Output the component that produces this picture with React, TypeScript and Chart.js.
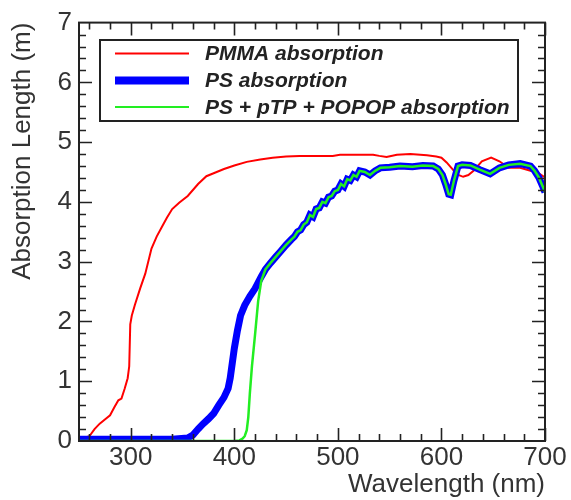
import React, { useEffect, useRef } from "react";
import { Chart, registerables } from "chart.js";

Chart.register(...registerables);

// ---- data ----
const xTicks = [300, 400, 500, 600, 700];
const yTicks = [0, 1, 2, 3, 4, 5, 6, 7];

const pmmaLabel = "PMMA absorption";
const pmmaNm = [250, 255, 260, 265, 270, 275, 280, 284, 288, 291, 294, 297, 298.5, 299.5, 301, 304, 309, 314, 320, 325, 330, 335, 340, 347, 355, 365, 373, 380, 390, 400, 412, 425, 437, 450, 463, 480, 495, 502, 520, 534, 540, 547, 557, 570, 586, 595, 600, 605, 610, 615, 621, 626, 631, 639, 648, 656, 665, 676, 686, 693, 700];
const pmmaLen = [0.03, 0.05, 0.08, 0.2, 0.29, 0.36, 0.43, 0.56, 0.68, 0.71, 0.87, 1.05, 1.25, 1.95, 2.1, 2.28, 2.55, 2.8, 3.22, 3.42, 3.58, 3.74, 3.88, 3.99, 4.1, 4.3, 4.43, 4.48, 4.55, 4.61, 4.67, 4.71, 4.74, 4.76, 4.77, 4.77, 4.77, 4.79, 4.79, 4.79, 4.77, 4.75, 4.79, 4.8, 4.78, 4.76, 4.74, 4.66, 4.56, 4.46, 4.42, 4.45, 4.52, 4.68, 4.74, 4.68, 4.57, 4.57, 4.52, 4.49, 4.41];

const psLabel = "PS absorption";
const psNm = [250, 300, 340, 355, 360, 365, 370, 375, 380, 385, 390, 394, 396, 398, 400, 403, 406, 410, 415, 420, 426, 430, 435, 440, 445, 450, 455, 458, 461, 464, 467, 470, 473, 476, 479, 482, 485, 488, 491, 494, 497, 500, 503, 506, 509, 512, 515, 518, 521, 526, 531, 536, 541, 550, 560, 572, 582, 592, 597, 601, 604, 607, 609, 612, 616, 620, 628, 637, 647, 656, 665, 676, 686, 690, 694, 698, 700];
const psLen = [0.03, 0.03, 0.03, 0.05, 0.1, 0.2, 0.29, 0.37, 0.46, 0.6, 0.73, 0.88, 1.05, 1.3, 1.55, 1.85, 2.1, 2.27, 2.42, 2.55, 2.75, 2.87, 2.98, 3.08, 3.18, 3.28, 3.37, 3.42, 3.5, 3.53, 3.62, 3.66, 3.78, 3.75, 3.88, 3.9, 4.0, 3.98, 4.08, 4.1, 4.18, 4.2, 4.3, 4.26, 4.38, 4.36, 4.45, 4.42, 4.52, 4.5, 4.45, 4.52, 4.57, 4.58, 4.6, 4.59, 4.61, 4.6, 4.55, 4.45, 4.3, 4.13, 4.12, 4.35, 4.6, 4.62, 4.61, 4.54, 4.47, 4.57, 4.62, 4.64, 4.6, 4.52, 4.41, 4.25, 4.16];

const wlsLabel = "PS + pTP + POPOP absorption";
const wlsNm = [250, 400, 405, 408, 410, 412, 413.5, 415, 417, 420, 423, 426, 430, 435, 440, 445, 450, 455, 458, 461, 464, 467, 470, 473, 476, 479, 482, 485, 488, 491, 494, 497, 500, 503, 506, 509, 512, 515, 518, 521, 526, 531, 536, 541, 550, 560, 572, 582, 592, 597, 601, 604, 607, 609, 612, 616, 620, 628, 637, 647, 656, 665, 676, 686, 690, 694, 698, 700];
const wlsLen = [0, 0, 0.01, 0.04, 0.08, 0.18, 0.4, 0.8, 1.25, 1.78, 2.34, 2.68, 2.87, 2.98, 3.08, 3.18, 3.28, 3.37, 3.42, 3.5, 3.53, 3.62, 3.66, 3.78, 3.75, 3.88, 3.9, 4.0, 3.98, 4.08, 4.1, 4.18, 4.2, 4.3, 4.26, 4.38, 4.36, 4.45, 4.42, 4.52, 4.5, 4.45, 4.52, 4.57, 4.58, 4.6, 4.59, 4.61, 4.6, 4.55, 4.45, 4.3, 4.13, 4.12, 4.35, 4.6, 4.62, 4.61, 4.54, 4.47, 4.57, 4.62, 4.64, 4.6, 4.52, 4.41, 4.25, 4.16];

const toPoints = (xs: number[], ys: number[]) => xs.map((x, i) => ({ x, y: ys[i] }));

const FONT = '"Liberation Sans", Arial, Helvetica, sans-serif';
const TEXT = "#333333";

const frameTicks = {
  id: "frameTicks",
  afterDatasetsDraw(chart: any) {
    const { ctx, chartArea, scales } = chart;
    const { left, right, top, bottom } = chartArea;
    const x = scales.x;
    const y = scales.y;
    ctx.save();
    ctx.strokeStyle = "#222";
    ctx.lineWidth = 1.6;
    ctx.beginPath();
    for (let v = 260; v <= 700; v += 20) {
      const len = v % 100 === 0 ? 13 : 7;
      const px = Math.round(x.getPixelForValue(v)) + 0.5;
      ctx.moveTo(px, bottom);
      ctx.lineTo(px, bottom - len);
      ctx.moveTo(px, top);
      ctx.lineTo(px, top + len);
    }
    for (let i = 1; i < 35; i++) {
      const v = i / 5;
      const len = i % 5 === 0 ? 13 : 7;
      const py = Math.round(y.getPixelForValue(v)) + 0.5;
      ctx.moveTo(left, py);
      ctx.lineTo(left + len, py);
      ctx.moveTo(right, py);
      ctx.lineTo(right - len, py);
    }
    ctx.stroke();
    ctx.lineWidth = 2;
    ctx.strokeRect(left, top, right - left, bottom - top);
    ctx.restore();
  },
};

const boxLegend = {
  id: "boxLegend",
  afterDraw(chart: any) {
    const { ctx } = chart;
    const bx = 100, by = 40, bw = 418, bh = 81;
    const rows = [53.5, 80.5, 107];
    const widths = [2, 8, 2];
    ctx.save();
    ctx.fillStyle = "#ffffff";
    ctx.fillRect(bx, by, bw, bh);
    ctx.strokeStyle = "#222";
    ctx.lineWidth = 2;
    ctx.strokeRect(bx, by, bw, bh);
    chart.data.datasets.forEach((ds: any, i: number) => {
      const ry = rows[i];
      ctx.strokeStyle = ds.borderColor;
      ctx.lineWidth = widths[i];
      ctx.beginPath();
      ctx.moveTo(115, ry);
      ctx.lineTo(189, ry);
      ctx.stroke();
      ctx.fillStyle = "#222";
      ctx.font = `italic bold 21px ${FONT}`;
      ctx.textAlign = "left";
      ctx.textBaseline = "middle";
      ctx.fillText(ds.label, 205, ry + 1);
    });
    ctx.restore();
  },
};

export default function App() {
  const ref = useRef<HTMLCanvasElement>(null);
  useEffect(() => {
    document.body.style.margin = "0";
    const canvas = ref.current;
    if (!canvas) return;
    const chart = new Chart(canvas, {
      type: "line",
      data: {
        datasets: [
          {
            label: pmmaLabel,
            data: toPoints(pmmaNm, pmmaLen),
            borderColor: "#ff0000",
            borderWidth: 2,
            pointRadius: 0,
            tension: 0,
            order: 3,
          },
          {
            label: psLabel,
            data: toPoints(psNm, psLen),
            borderColor: "#0000ff",
            borderWidth: 7,
            pointRadius: 0,
            tension: 0,
            order: 2,
          },
          {
            label: wlsLabel,
            data: toPoints(wlsNm, wlsLen),
            borderColor: "#22ee22",
            borderWidth: 2.5,
            pointRadius: 0,
            tension: 0,
            order: 1,
          },
        ],
      },
      options: {
        animation: false,
        responsive: false,
        maintainAspectRatio: false,
        layout: { padding: { top: 18, right: 26, left: 0, bottom: 0 } },
        plugins: { legend: { display: false }, tooltip: { enabled: false } },
        scales: {
          x: {
            type: "linear",
            min: 250,
            max: 700,
            afterBuildTicks: (s: any) => {
              s.ticks = xTicks.map((value) => ({ value }));
            },
            afterFit: (s: any) => {
              s.height = 59;
            },
            grid: { display: false, drawTicks: false },
            border: { display: false },
            ticks: {
              color: TEXT,
              font: { family: FONT, size: 26 },
              padding: 1,
              maxRotation: 0,
              autoSkip: false,
            },
            title: {
              display: true,
              text: "Wavelength (nm)",
              align: "end",
              color: TEXT,
              font: { family: FONT, size: 26 },
              padding: { top: 0, bottom: 0 },
            },
          },
          y: {
            type: "linear",
            min: 0,
            max: 7,
            afterBuildTicks: (s: any) => {
              s.ticks = yTicks.map((value) => ({ value }));
            },
            afterFit: (s: any) => {
              s.width = 79;
            },
            grid: { display: false, drawTicks: false },
            border: { display: false },
            ticks: {
              color: TEXT,
              font: { family: FONT, size: 26 },
              padding: 7,
              autoSkip: false,
            },
            title: {
              display: true,
              text: "Absorption Length (m)",
              align: "end",
              color: TEXT,
              font: { family: FONT, size: 26 },
              padding: { top: 7, bottom: 0 },
            },
          },
        },
      },
      plugins: [frameTicks, boxLegend],
    } as any);
    return () => chart.destroy();
  }, []);
  return (
    <div style={{ position: "absolute", left: 0, top: 0, width: 571, height: 500, background: "#fff" }}>
      <canvas ref={ref} width={571} height={500} style={{ width: 571, height: 500 }} />
    </div>
  );
}
